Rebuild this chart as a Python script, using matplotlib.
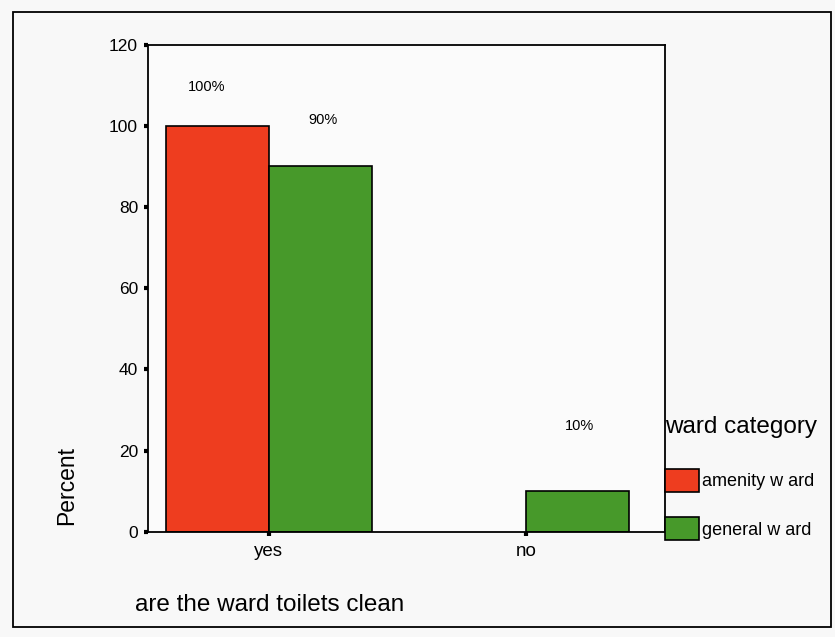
import numpy as np
import matplotlib
matplotlib.use("Agg")
import matplotlib.pyplot as plt
from matplotlib.patches import Rectangle

plt.rcParams['font.family'] = ['Liberation Sans', 'DejaVu Sans']

# toilet cleanliness by ward category (percent)
answers = ["yes", "no"]
wards = ["amenity w ard", "general w ard"]
amenity = [100, 0]
general = [90, 10]
colors = ["#ee3d1f", "#47992a"]

fig = plt.figure(figsize=(8.35, 6.37), dpi=100)
fig.patch.set_facecolor("#f8f8f8")
ax = fig.add_axes([0.177, 0.165, 0.619, 0.765])
ax.set_facecolor("#fbfbfb")

x = np.arange(len(answers))
w = 0.4
series = [amenity, general]
for i, vals in enumerate(series):
    xs = x + (i - 1) * w
    keep = [v > 0 for v in vals]
    ax.bar(xs[keep], np.array(vals)[keep], width=w, align="edge",
           color=colors[i], edgecolor="black", linewidth=1.2, label=wards[i])

# percent labels above the bars
for i, vals in enumerate(series):
    for j, v in enumerate(vals):
        if v == 0:
            continue
        cx = x[j] + (i - 1) * w + w / 2
        lift = [9.5, 11.5, 16][i + j]
        ax.text(cx - 0.04 if i == 0 else cx + 0.01, v + lift, "%d%%" % v,
                ha="center", va="center", fontsize=10.5)

ax.set_xlim(-0.47, 1.54)
ax.set_ylim(0, 120)
ax.set_yticks(np.arange(0, 121, 20))
ax.set_xticks(x)
ax.set_xticklabels(answers)
ax.tick_params(axis="y", direction="out", length=3, width=3, labelsize=12.5, pad=4)
ax.tick_params(axis="x", direction="out", length=3, width=3, labelsize=13.5, pad=5)
for s in ax.spines.values():
    s.set_linewidth(1.3)

ax.set_ylabel("Percent", fontsize=16.5, loc="bottom")
ax.yaxis.set_label_coords(-0.135, 0.014)
ax.set_xlabel("are the ward toilets clean", fontsize=17.5, loc="left")
ax.xaxis.set_label_coords(-0.025, -0.128)

leg = ax.legend(title="ward category", loc="upper left",
                bbox_to_anchor=(665 / 835, 1 - 416 / 637),
                bbox_transform=fig.transFigure, frameon=False,
                fontsize=13, title_fontsize=17.5, alignment="left",
                handlelength=1.9, handleheight=1.6, handletextpad=0.15,
                labelspacing=1.4, borderpad=0, borderaxespad=0)
leg._legend_box.sep = 22

# outer frame
fig.patches.append(Rectangle((13 / 835, 1 - 627 / 637), 818 / 835, 615 / 637,
                             transform=fig.transFigure, fill=False,
                             edgecolor="black", linewidth=1.3))

fig.savefig("out.png", dpi=100, facecolor=fig.get_facecolor())
